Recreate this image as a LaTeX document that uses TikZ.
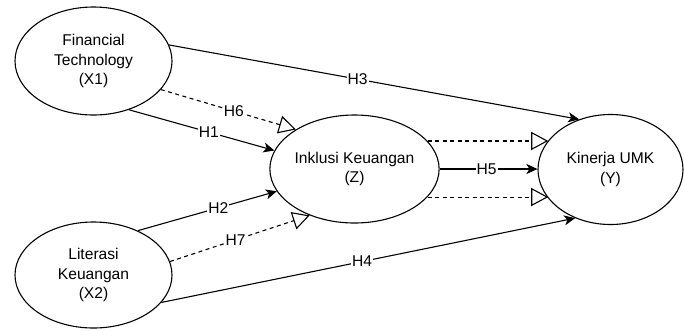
\documentclass[tikz,border=0pt]{standalone}
\usepackage{fontspec}
\setmainfont{Liberation Sans}
\usetikzlibrary{shapes.geometric,arrows.meta}
\begin{document}
\begin{tikzpicture}[x=1pt,y=-1pt,
  every node/.style={font=\fontsize{15.6}{19.5}\selectfont},
  var/.style={draw, line width=1.1pt, ellipse, inner sep=0pt, align=center},
  conn/.style={line width=1.1pt, -{Stealth[length=11pt,width=10pt,inset=3pt]}},
  dconn/.style={line width=1.1pt, dash pattern=on 4pt off 3.5pt, -{Triangle[open,length=17pt,width=18pt]}},
  lbl/.style={fill=white, inner sep=1pt}]
\useasboundingbox (0,0) rectangle (684,330);
\node[var, minimum width=157pt, minimum height=108pt] (X1) at (93.5,61) {Financial\\Technology\\(X1)};
\node[var, minimum width=157pt, minimum height=106pt] (X2) at (93.5,275) {Literasi\\Keuangan\\(X2)};
\node[var, minimum width=157pt, minimum height=108pt] (Z) at (354.5,169) {Inklusi Keuangan\\(Z)};
\node[var, minimum width=145pt, minimum height=110pt] (Y) at (610.5,169.5) {Kinerja UMK\\(Y)};

\draw[conn] (X1.12) -- node[lbl, pos=0.46] (h3) {H3} (Y.122);
\draw[dconn] (X1.-23.4) -- node[lbl, pos=0.54] (h6) {H6} (Z.146);
\draw[conn] (X1.-54.3) -- node[lbl, pos=0.55] (h1) {H1} (Z.167);
\draw[conn] (X2.45.3) -- node[lbl, pos=0.58] (h2) {H2} (Z.196.4);
\draw[dconn] (X2.10.8) -- node[lbl, pos=0.47] (h7) {H7} (Z.226.5);
\draw[conn] (X2.-22.8) -- node[lbl, pos=0.485] (h4) {H4} (Y.234.2);
\draw[dconn] (Z.21.5) -- (Z.21.5 -| Y.155);
\draw[conn] (Z.east) -- node[lbl, pos=0.48] (h5) {H5} (Z.east -| Y.west);
\draw[dconn] (Z.-21) -- (Z.-21 -| Y.-155);
\end{tikzpicture}
\end{document}
